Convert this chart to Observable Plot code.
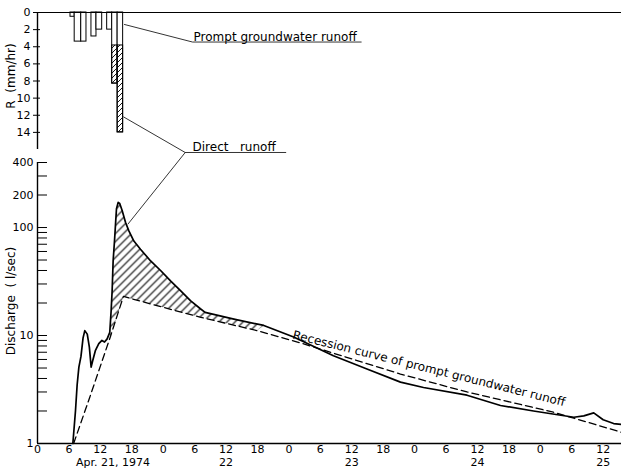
<!DOCTYPE html>
<html>
<head>
<meta charset="utf-8">
<script src="https://cdn.jsdelivr.net/npm/d3@7"></script>
<script src="https://cdn.jsdelivr.net/npm/@observablehq/plot@0.6"></script>
<style>
  body { margin: 0; background: #fff; }
  #chart { position: relative; width: 621px; height: 471px; overflow: hidden; background: #fff; }
  #chart svg.plotsvg { position: absolute; left: 0; overflow: visible; background: transparent; }
</style>
</head>
<body>
<svg width="0" height="0" style="position:absolute">
  <defs>
    <pattern id="hatch" patternUnits="userSpaceOnUse" width="8" height="8">
      <path d="M-1,1 L1,-1 M0,8 L8,0 M7,9 L9,7" stroke="#000" stroke-width="1.1" fill="none"/>
    </pattern>
    <pattern id="hatchR" patternUnits="userSpaceOnUse" width="5" height="5">
      <path d="M-1,1 L1,-1 M0,5 L5,0 M4,6 L6,4" stroke="#000" stroke-width="0.9" fill="none"/>
    </pattern>
  </defs>
</svg>
<div id="chart"></div>
<script>
// ---------- data (hours counted from Apr. 21, 1974 00:00) ----------
// rainfall intensity R (mm/hr)
const rainStart  = [6.3, 7.1, 8.35, 10.3, 11.26, 13.3, 14.26, 15.3];
const rainEnd    = [7.1, 8.35, 9.35, 11.26, 12.35, 14.26, 15.3, 16.35];
const rainRate   = [0.5, 3.4, 3.4, 2.8, 2.0, 2.0, 8.3, 14.0];
const rainPrompt = [0.5, 3.4, 3.4, 2.8, 2.0, 2.0, 3.85, 3.85]; // prompt groundwater runoff part

// observed discharge (l/sec)
const qHours = [6.75, 7.25, 7.57, 7.9, 8.3, 8.7, 9.03, 9.5, 9.9, 10.24, 10.56, 11.07, 11.7, 12.3, 12.8, 13.3, 13.8,
  14.06, 14.25, 14.44, 14.7, 14.9, 15.08, 15.4, 15.7, 16.16, 16.8, 17.4, 18.4, 19.66, 21.6, 23.5, 25.4, 27.3,
  29.2, 31.1, 32.0, 37.5, 43.2, 48.9, 56.5, 62.9, 69.3, 73.7, 82.0, 88.4, 94.7, 102.4, 104.3, 106.2, 108.0, 110.0, 111.5];
const discharge = [1.0, 2.0, 3.5, 5.1, 6.4, 9.5, 11.1, 10.3, 7.8, 5.1, 5.9, 7.3, 8.4, 9.0, 8.7, 9.3, 10.7,
  17, 26, 49, 75, 108, 149, 171, 167, 144, 112, 94, 75, 63, 49, 40, 32, 26,
  21, 17.7, 16.4, 14.2, 12.4, 9.7, 6.5, 4.9, 3.7, 3.3, 2.8, 2.25, 2.0, 1.75, 1.8, 1.92, 1.66, 1.53, 1.5];

// recession curve of prompt groundwater runoff (dashed)
const baseHours = [6.9, 10.0, 13.9, 16.4, 21.6, 31.0, 41.9, 50.0, 69.3, 82.0, 98.5, 111.5];
const baseflow  = [1.0, 2.7, 9.7, 23, 19.6, 14.8, 11.1, 8.6, 4.4, 3.0, 1.95, 1.27];

// direct runoff (hatched) spans these hours
const directFrom = 13.8, directTo = 43.2;

// axes
const xTickHours = d3.range(0, 109, 6);
const dayLabelHours = [14.4, 36, 60, 84, 108];
const dayLabels = ["Apr. 21, 1974", "22", "23", "24", "25"];
const rTicks = [0, 2, 4, 6, 8, 10, 12, 14];
const qTickLabels = [1, 5, 10, 50, 100, 200, 400];
const qTicks = [2, 3, 4, 5, 6, 7, 8, 9, 10, 20, 30, 40, 50, 60, 70, 80, 90, 100, 200, 300, 400];

// annotations
const promptLeader = [{t: 16.6, v: 1.4}, {t: 29.6, v: 3.45}, {t: 61.8, v: 3.45}];
const directLeaderTop = [{t: 16.45, v: 12.2}, {t: 28.2, v: 16.35}, {t: 47.4, v: 16.35}];
const directLeaderBottom = [{t: 28.2, v: 495}, {t: 17.3, v: 108}];
const promptText = "Prompt groundwater runoff";
const directText = "Direct   runoff";
const recessionText = "Recession curve of prompt groundwater runoff";

// ---------- tables ----------
const rain = rainRate.map((r, i) => ({t0: rainStart[i], t1: rainEnd[i], r, p: rainPrompt[i]}));
const q = qHours.map((t, i) => ({t, q: discharge[i]}));
const base = baseHours.map((t, i) => ({t, q: baseflow[i]}));
const hatchPoly = q.filter(d => d.t >= directFrom && d.t <= directTo)
  .concat(base.filter(d => d.t >= directFrom && d.t <= directTo).reverse());

const W = 621;
const xDomain = [0, 111.5];
const font = "'DejaVu Sans', sans-serif";
const style = {fontFamily: font, fontSize: "11px", color: "#000", background: "transparent", overflow: "visible"};

const topPlot = Plot.plot({
  width: W, height: 156,
  marginLeft: 37, marginRight: 0, marginTop: 12, marginBottom: 7,
  x: {domain: xDomain, axis: null},
  y: {domain: [0, 16], reverse: true, axis: null},
  style,
  marks: [
    Plot.rect(rain, {x1: "t0", x2: "t1", y1: 0, y2: "r", fill: "white", stroke: "black", strokeWidth: 1}),
    Plot.rect(rain.filter(d => d.r > d.p), {x1: "t0", x2: "t1", y1: "p", y2: "r", fill: "url(#hatchR)", stroke: "black", strokeWidth: 1}),
    Plot.ruleY([0], {stroke: "black", strokeWidth: 1.2}),
    Plot.ruleX([0], {stroke: "black", strokeWidth: 1.4}),
    Plot.axisY({ticks: rTicks, tickSize: 4, tickPadding: 3, tickFormat: d => d, fontSize: 11, label: null}),
    Plot.tickY(rTicks, {y: d => d, insetRight: 581, strokeWidth: 1}),
    Plot.text(["R  (mm/hr)"], {frameAnchor: "left", textAnchor: "middle", dx: -26, dy: -5, rotate: -90, fontSize: 12}),
    Plot.line(promptLeader, {x: "t", y: "v", stroke: "black", strokeWidth: 0.8}),
    Plot.text([promptText], {x: 29.8, y: 3.45, textAnchor: "start", lineAnchor: "bottom", dy: -1, fontSize: 12}),
    Plot.line(directLeaderTop, {x: "t", y: "v", stroke: "black", strokeWidth: 0.8}),
    Plot.text([directText], {x: 29.6, y: 16.35, textAnchor: "start", lineAnchor: "bottom", dy: -1, fontSize: 12})
  ]
});

const bottomPlot = Plot.plot({
  width: W, height: 315,
  marginLeft: 37, marginRight: 0, marginTop: 6, marginBottom: 28,
  x: {domain: xDomain, axis: null},
  y: {type: "log", domain: [1, 400], axis: null},
  style,
  marks: [
    Plot.line(hatchPoly, {x: "t", y: "q", fill: "url(#hatch)", stroke: "none"}),
    Plot.line(base, {x: "t", y: "q", stroke: "black", strokeWidth: 1.3, strokeDasharray: "7,4"}),
    Plot.line(q, {x: "t", y: "q", stroke: "black", strokeWidth: 1.7}),
    Plot.ruleX([0], {stroke: "black", strokeWidth: 1.4}),
    Plot.ruleY([1], {stroke: "black", strokeWidth: 1.4}),
    Plot.tickX(xTickHours, {x: d => d, insetTop: 281, strokeWidth: 1}),
    Plot.tickY(qTicks, {y: d => d, insetRight: 574, strokeWidth: 1}),
    Plot.axisX({ticks: xTickHours, tickSize: 0, tickPadding: 2, tickFormat: d => d % 24, fontSize: 11, label: null}),
    Plot.text(dayLabels, {x: (d, i) => dayLabelHours[i], frameAnchor: "bottom", dy: 15, lineAnchor: "top", fontSize: 11}),
    Plot.axisY({ticks: qTickLabels, tickSize: 0, tickPadding: 4, tickFormat: d => d, fontSize: 11, label: null}),
    Plot.text(["Discharge  ( l/sec)"], {frameAnchor: "left", textAnchor: "middle", dx: -26, dy: -2, rotate: -90, fontSize: 12}),
    Plot.line(directLeaderBottom, {x: "t", y: "v", stroke: "black", strokeWidth: 0.8}),
    Plot.text([recessionText], {x: 48.6, y: 9.0, rotate: 14, textAnchor: "start", lineAnchor: "bottom", dy: -2, fontSize: 12})
  ]
});

const chart = document.getElementById("chart");
topPlot.classList.add("plotsvg");
topPlot.style.top = "0px";
bottomPlot.classList.add("plotsvg");
bottomPlot.style.top = "156px";
chart.appendChild(topPlot);
chart.appendChild(bottomPlot);
</script>
</body>
</html>
